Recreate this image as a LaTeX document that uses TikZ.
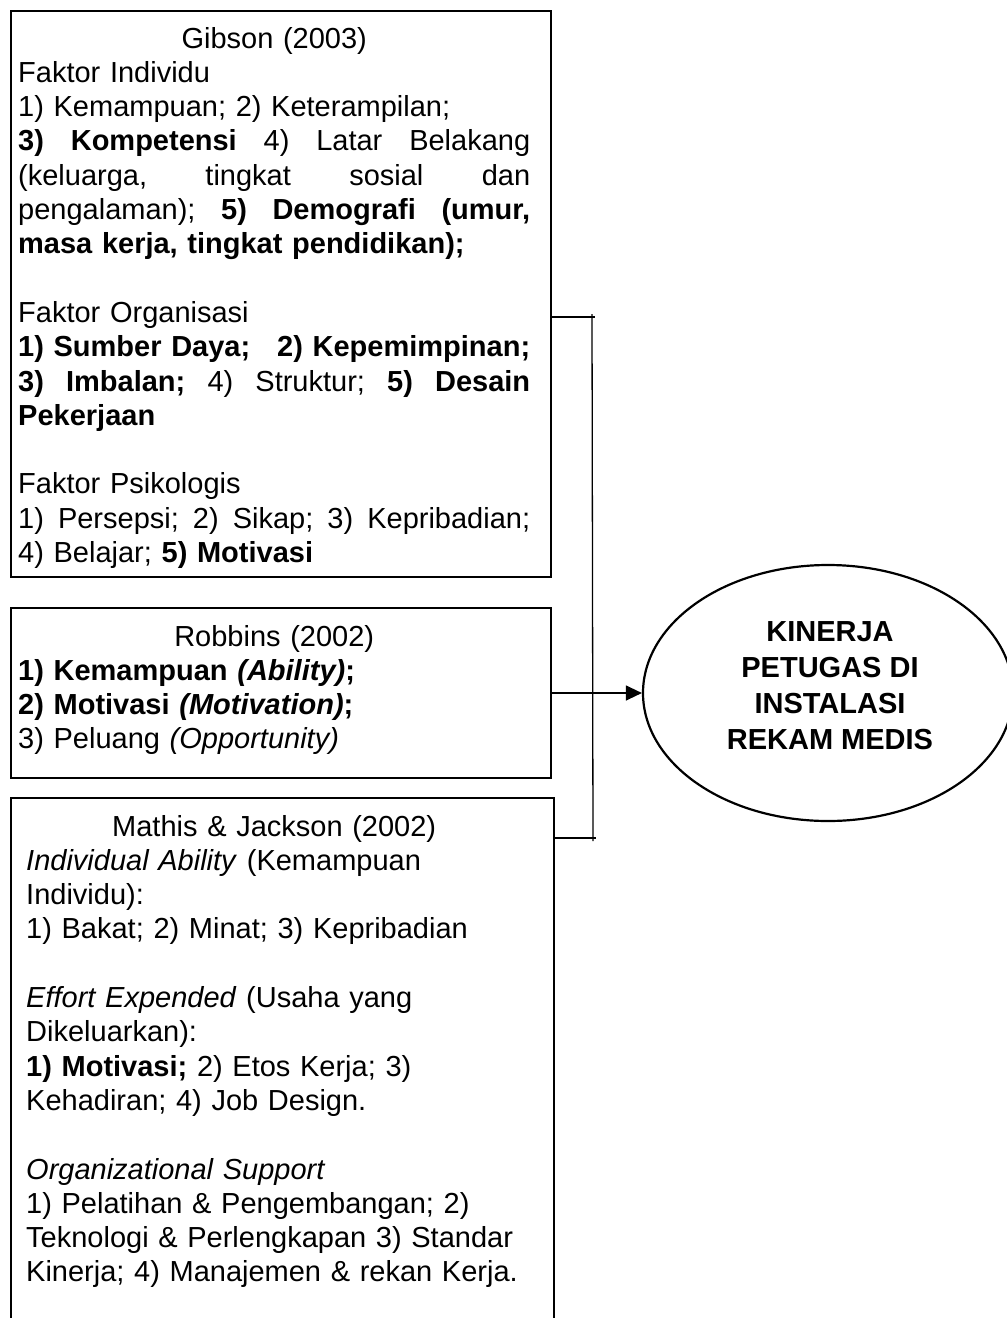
\documentclass[tikz,border=0pt]{standalone}
\usepackage{fontspec}
\setmainfont{Liberation Sans}
\usetikzlibrary{shapes.geometric,arrows.meta}
\newcommand\JL[1]{\leavevmode\hbox to 512pt{#1}}
\newcommand\CL[1]{\makebox[512pt][c]{#1}}
\begin{document}
\begin{tikzpicture}[x=1pt,y=1pt,
  frame/.style={draw, line width=1.8pt, anchor=north west, inner sep=0pt},
  txt/.style={anchor=base west, inner sep=0pt, text width=516pt, align=left,
    font=\fontsize{29}{34.3}\selectfont},
  link/.style={draw, line width=1.3pt},
  goal/.style={draw, ellipse, line width=2.2pt, inner sep=0pt}]
\useasboundingbox (0,0) rectangle (1007,-1318);

% boxes
\node[frame, minimum width=540pt, minimum height=566pt] (gib) at (10,-10) {};
\node[frame, minimum width=540pt, minimum height=170pt] (rob) at (10,-607) {};
\node[frame, minimum width=543pt, minimum height=560pt] (mat) at (10,-797) {};

% Gibson text
\node[txt] (gibtxt) at (18,-48) {%
\CL{Gibson (2003)}\\
Faktor Individu\\
1) Kemampuan; 2) Keterampilan;\\
\JL{\textbf{3)}\hfill\textbf{Kompetensi}\hfill 4)\hfill Latar\hfill Belakang}\\
\JL{(keluarga,\hfill tingkat\hfill sosial\hfill dan}\\
\JL{pengalaman);\hfill\textbf{5)}\hfill\textbf{Demografi}\hfill\textbf{(umur,}}\\
\textbf{masa kerja, tingkat pendidikan);}\\
\mbox{}\\
Faktor Organisasi\\
\JL{\textbf{1) Sumber Daya;\hspace{6pt}\hfill 2) Kepemimpinan;}}\\
\JL{\textbf{3)}\hfill\textbf{Imbalan;}\hfill 4)\hfill Struktur;\hfill\textbf{5)}\hfill\textbf{Desain}}\\
\textbf{Pekerjaan}\\
\mbox{}\\
Faktor Psikologis\\
\JL{1)\hfill Persepsi;\hfill 2)\hfill Sikap;\hfill 3)\hfill Kepribadian;}\\
4) Belajar; \textbf{5) Motivasi}};

% Robbins text
\node[txt] (robtxt) at (18,-646) {%
\CL{Robbins (2002)}\\
\textbf{1) Kemampuan \textit{(Ability)};}\\
\textbf{2) Motivasi \textit{(Motivation)};}\\
3) Peluang \textit{(Opportunity)}};

% Mathis text
\node[txt] (mattxt) at (26,-836) {%
\makebox[496pt][c]{Mathis \& Jackson (2002)}\\
\textit{Individual Ability} (Kemampuan\\
Individu):\\
1) Bakat; 2) Minat; 3) Kepribadian\\
\mbox{}\\
\textit{Effort Expended} (Usaha yang\\
Dikeluarkan):\\
\textbf{1) Motivasi;} 2) Etos Kerja; 3)\\
Kehadiran; 4) Job Design.\\
\mbox{}\\
\textit{Organizational Support}\\
1) Pelatihan \& Pengembangan; 2)\\
Teknologi \& Perlengkapan 3) Standar\\
Kinerja; 4) Manajemen \& rekan Kerja.};

% goal ellipse
\node[goal, minimum width=370pt, minimum height=256pt] (kin) at (828,-693) {};
\node[align=center, inner sep=0pt, font=\fontsize{29}{36}\selectfont\bfseries] (kintxt) at (830,-686)
  {KINERJA\\PETUGAS DI\\INSTALASI\\REKAM MEDIS};

% connectors
\coordinate (jt) at (592,-317);
\coordinate (jb) at (593,-838);
\draw[link] (gib.east |- jt) -- ([xshift=3pt]jt);
\draw[link] (mat.east |- jb) -- ([xshift=3pt]jb);
\draw[link] ([yshift=3pt]jt) -- ([yshift=-3pt]jb);
\draw[link, -{Triangle[length=16pt,width=15pt]}] (rob.east |- kin.west) -- (kin.west);
\end{tikzpicture}
\end{document}
